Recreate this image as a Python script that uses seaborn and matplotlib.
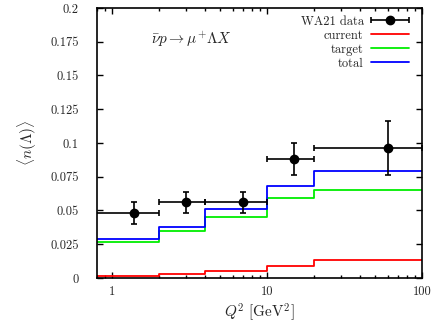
import numpy as np
import pandas as pd
import matplotlib
matplotlib.use("Agg")
import matplotlib.pyplot as plt
import seaborn as sns
from matplotlib.ticker import FixedLocator, LogLocator, NullFormatter, FixedFormatter
from matplotlib.container import ErrorbarContainer
from matplotlib.legend_handler import HandlerErrorbar

# ---- data ----
bin_edges = [0.5, 2, 4, 10, 20, 100]
current = [0.0015, 0.0027, 0.0052, 0.0091, 0.0133]
target = [0.027, 0.035, 0.045, 0.059, 0.065]
total = [0.029, 0.038, 0.051, 0.068, 0.079]

data_x = [1.39, 3.0, 7.0, 15.0, 60.0]
data_y = [0.048, 0.056, 0.056, 0.088, 0.096]
data_yerr = [0.008, 0.008, 0.008, 0.012, 0.020]

yticks = [0, 0.025, 0.05, 0.075, 0.1, 0.125, 0.15, 0.175, 0.2]
ytick_labels = ["0", "0.025", "0.05", "0.075", "0.1", "0.125", "0.15", "0.175", "0.2"]
xticks = [1, 10, 100]
xtick_labels = ["1", "10", "100"]

sns.set_style("ticks")
plt.rcParams["font.family"] = ["cmr10", "DejaVu Serif"]
plt.rcParams["mathtext.fontset"] = "cm"
plt.rcParams["axes.formatter.use_mathtext"] = True

fig = plt.figure(figsize=(4.36, 3.27), dpi=100)
ax = fig.add_axes([0.2225, 0.150, 0.968 - 0.2225, 0.9755 - 0.150])

def steps_df(vals):
    return pd.DataFrame({"x": bin_edges, "y": list(vals) + [vals[-1]]})

for vals, col, lab in [(current, "#ff0000", "current"),
                       (target, "#00ee00", "target"),
                       (total, "#0000ff", "total")]:
    df = steps_df(vals)
    sns.lineplot(data=df, x="x", y="y", ax=ax, color=col, lw=1.3,
                 drawstyle="steps-post", estimator=None, sort=False, label=lab)

# data points with bin-width horizontal errors
lo = [x - bin_edges[i] for i, x in enumerate(data_x)]
hi = [bin_edges[i + 1] - x for i, x in enumerate(data_x)]
ax.errorbar(data_x, data_y, xerr=[lo, hi], yerr=data_yerr, fmt="o",
            color="black", ms=6, elinewidth=1.2, capsize=2, capthick=1.2,
            zorder=5)
# legend proxy (horizontal bar only)
ax.errorbar([np.nan], [np.nan], xerr=[1], fmt="o", color="black",
            ms=6, elinewidth=1.2, capsize=2, capthick=1.2, label="WA21 data")

ax.set_xscale("log")
ax.set_xlim(0.8, 100)
ax.set_ylim(0, 0.2)
ax.xaxis.set_major_locator(FixedLocator(xticks))
ax.xaxis.set_major_formatter(FixedFormatter(xtick_labels))
ax.xaxis.set_minor_locator(LogLocator(base=10, subs=np.arange(2, 10)))
ax.xaxis.set_minor_formatter(NullFormatter())
ax.yaxis.set_major_locator(FixedLocator(yticks))
ax.yaxis.set_major_formatter(FixedFormatter(ytick_labels))

ax.tick_params(which="both", direction="in", top=True, right=True,
               labelsize=9, width=1.0, color="black")
ax.tick_params(which="major", length=4)
ax.tick_params(axis="x", which="major", pad=6)
ax.tick_params(axis="y", which="major", pad=13)
ax.tick_params(which="minor", length=2.2)
for s in ax.spines.values():
    s.set_linewidth(1.2)
    s.set_color("black")

ax.set_xlabel(r"$Q^2\ [\mathrm{GeV}^2]$", fontsize=11, labelpad=2)
ax.set_ylabel(r"$\langle n(\Lambda)\rangle$", fontsize=11, labelpad=8)

ax.text(0.165, 0.885, r"$\bar{\nu}p \to \mu^{+}\Lambda X$", transform=ax.transAxes,
        fontsize=11, va="center", ha="left")

handles, labels = ax.get_legend_handles_labels()
order = [labels.index(l) for l in ["WA21 data", "current", "target", "total"]]
leg = ax.legend([handles[i] for i in order], [labels[i] for i in order],
                loc="upper right", bbox_to_anchor=(0.982, 1.0),
                frameon=False, markerfirst=False,
                fontsize=9, handlelength=3.0, handletextpad=0.6,
                labelspacing=0.15, borderaxespad=0.2,
                handler_map={ErrorbarContainer: HandlerErrorbar(xerr_size=1.5)})

fig.savefig("out.png", dpi=100)
